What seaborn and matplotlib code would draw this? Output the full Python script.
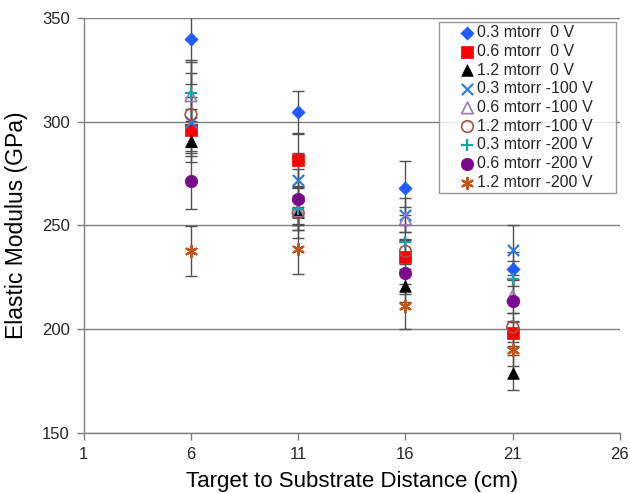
import matplotlib
matplotlib.use("Agg")
import matplotlib.pyplot as plt
import seaborn as sns
import pandas as pd

distance = [6, 11, 16, 21]

labels = ["0.3 mtorr  0 V", "0.6 mtorr  0 V", "1.2 mtorr  0 V",
          "0.3 mtorr -100 V", "0.6 mtorr -100 V", "1.2 mtorr -100 V",
          "0.3 mtorr -200 V", "0.6 mtorr -200 V", "1.2 mtorr -200 V"]

modulus = [
    [340.0, 304.5, 268.0, 229.0],
    [296.0, 281.5, 235.0, 198.0],
    [290.5, 256.5, 221.0, 179.0],
    [300.0, 272.0, 255.0, 238.0],
    [312.5, 257.0, 253.0, 216.0],
    [303.5, 256.0, 237.5, 201.0],
    [314.0, 258.0, 242.0, 224.0],
    [271.5, 262.5, 227.0, 213.5],
    [237.5, 238.5, 211.0, 190.0],
]

errors = [
    [22.0, 10.5, 13.0, 8.0],
    [10.0, 13.0, 8.0, 6.0],
    [9.7, 12.5, 8.0, 8.5],
    [12.0, 13.0, 8.0, 12.0],
    [17.4, 7.0, 6.0, 8.0],
    [20.0, 6.0, 6.0, 7.0],
    [15.0, 10.0, 8.0, 9.0],
    [13.5, 14.5, 10.0, 10.0],
    [12.0, 12.0, 11.0, 8.0],
]

styles = [
    dict(marker="D", color="#1F5BFF", fill=True, s=45),
    dict(marker="s", color="#FF0000", fill=True, s=85),
    dict(marker="^", color="#000000", fill=True, s=70),
    dict(marker="x", color="#2F7DE1", fill=True, s=65),
    dict(marker="^", color="#A07AB8", fill=False, s=70),
    dict(marker="o", color="#A0524A", fill=False, s=70),
    dict(marker="+", color="#17A1A1", fill=True, s=70),
    dict(marker="o", color="#7A0A8C", fill=True, s=80),
    dict(marker=(6, 2, 0), color="#C0561E", fill=True, s=65),
]

sns.set_style("white")
plt.rcParams["font.family"] = ["Liberation Sans", "DejaVu Sans"]

fig = plt.figure(figsize=(6.3, 4.93), dpi=100)
ax = fig.add_axes([0.133, 0.122, 0.851, 0.8415])

for lab, vals, errs in zip(labels, modulus, errors):
    ax.errorbar(distance, vals, yerr=errs, fmt="none", ecolor="#505050",
                elinewidth=1.0, capsize=4.2, capthick=1.0, zorder=2, clip_on=True)

for lab, vals, st in zip(labels, modulus, styles):
    df = pd.DataFrame({"x": distance, "y": vals})
    if st["marker"] in ("x", "+") or isinstance(st["marker"], tuple):
        sns.scatterplot(data=df, x="x", y="y", ax=ax, marker=st["marker"],
                        color=st["color"], s=st["s"], linewidth=1.6,
                        label=lab, zorder=3)
    elif st["fill"]:
        sns.scatterplot(data=df, x="x", y="y", ax=ax, marker=st["marker"],
                        color=st["color"], s=st["s"], edgecolor=st["color"],
                        linewidth=0.5, label=lab, zorder=3)
    else:
        sns.scatterplot(data=df, x="x", y="y", ax=ax, marker=st["marker"],
                        facecolor="none", edgecolor=st["color"], s=st["s"],
                        linewidth=1.2, label=lab, zorder=3)

ax.set_xlim(1, 26)
ax.set_ylim(150, 350)
ax.set_xticks([1, 6, 11, 16, 21, 26])
ax.set_yticks([150, 200, 250, 300, 350])
ax.yaxis.grid(True, color="#7F7F7F", linewidth=1.0)
ax.xaxis.grid(False)
ax.set_axisbelow(True)

for side in ("top", "right"):
    ax.spines[side].set_visible(False)
for side in ("left", "bottom"):
    ax.spines[side].set_color("#7F7F7F")
    ax.spines[side].set_linewidth(1.0)

ax.tick_params(axis="both", which="major", direction="out", length=5,
               width=1.0, color="#7F7F7F", labelsize=12, labelcolor="#262626",
               left=True, bottom=True, pad=5)

ax.set_xlabel("Target to Substrate Distance (cm)", fontsize=16, color="#000000", labelpad=7)
ax.set_ylabel("Elastic Modulus (GPa)", fontsize=16.5, color="#000000", labelpad=10)

leg = ax.legend(loc="upper left", bbox_to_anchor=(0.662, 0.578, 0.331, 0.412),
                mode="expand", frameon=True, fancybox=False, edgecolor="#7F7F7F",
                fontsize=11.5, handletextpad=-1.0, borderpad=0.2,
                labelspacing=0.23, handlelength=3.2, borderaxespad=0.0)
leg.get_frame().set_linewidth(1.0)
leg.set_zorder(5)

fig.savefig("out.png", dpi=100)
